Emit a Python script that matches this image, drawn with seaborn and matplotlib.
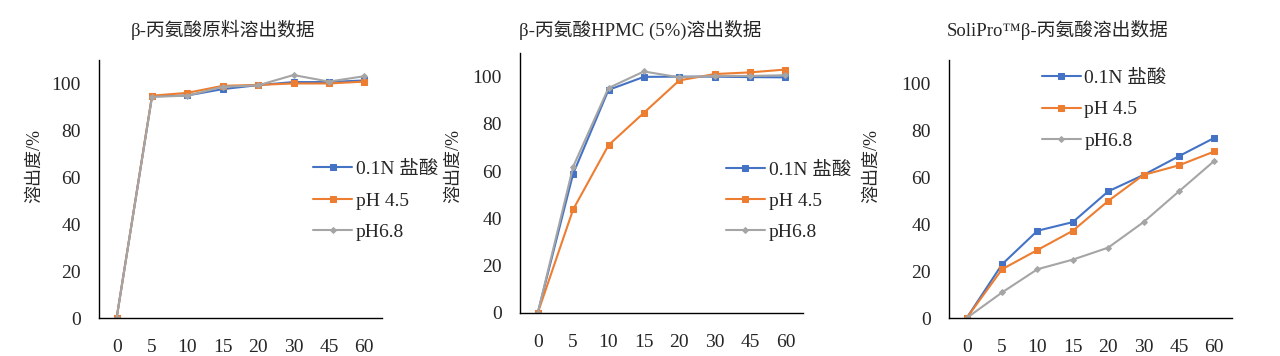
import numpy as np
import matplotlib
matplotlib.use("Agg")
import matplotlib.pyplot as plt
import seaborn as sns

sns.set_style("white")
plt.rcParams['font.family'] = ['Liberation Serif', 'Noto Sans CJK SC', 'DejaVu Sans']
plt.rcParams['axes.unicode_minus'] = False

# time points (min), treated as categories
times = ['0', '5', '10', '15', '20', '30', '45', '60']
series_names = ['0.1N 盐酸', 'pH 4.5', 'pH6.8']

titles = ['β-丙氨酸原料溶出数据',
          'β-丙氨酸HPMC (5%)溶出数据',
          'SoliPro™β-丙氨酸溶出数据']

# panel 1: raw material
raw_hcl = [0, 94.5, 94.9, 97.6, 99.3, 100.6, 100.6, 101.3]
raw_ph45 = [0, 94.8, 96.0, 99.0, 99.4, 100.0, 100.0, 100.8]
raw_ph68 = [0, 94.3, 94.8, 98.6, 99.2, 103.6, 100.8, 103.1]

# panel 2: HPMC (5%)
hpmc_hcl = [0, 58.9, 94.4, 99.9, 100.0, 100.0, 99.8, 99.7]
hpmc_ph45 = [0, 43.8, 71.0, 84.7, 98.4, 101.1, 101.8, 103.0]
hpmc_ph68 = [0, 61.9, 95.2, 102.2, 99.7, 100.3, 100.3, 100.6]

# panel 3: SoliPro
soli_hcl = [0, 22.9, 37.2, 40.9, 54.0, 61.0, 69.0, 76.8]
soli_ph45 = [0, 20.8, 29.0, 37.2, 49.9, 61.0, 65.1, 71.0]
soli_ph68 = [0, 10.9, 20.8, 24.9, 30.0, 40.9, 54.0, 67.0]

panels = [
    [raw_hcl, raw_ph45, raw_ph68],
    [hpmc_hcl, hpmc_ph45, hpmc_ph68],
    [soli_hcl, soli_ph45, soli_ph68],
]

colors = ['#4472C4', '#ED7D31', '#A5A5A5']
markers = ['s', 's', 'D']
msizes = [5, 5, 3]

fig = plt.figure(figsize=(12.8, 3.56), dpi=100)
ax_rects = [
    [0.0773, 0.1067, 0.2211, 0.7247],
    [0.4063, 0.1208, 0.2211, 0.7303],
    [0.7414, 0.1067, 0.2211, 0.7247],
]
title_pos = [(0.174, 0.915), (0.500, 0.915), (0.826, 0.915)]
ylabel_x = [0.027, 0.354, 0.681]
legend_anchor = [(0.73, 0.64), (0.70, 0.615), (0.30, 0.993)]

pos = np.arange(len(times))

for i, data in enumerate(panels):
    ax = fig.add_axes(ax_rects[i])
    for vals, name, c, m, ms in zip(data, series_names, colors, markers, msizes):
        sns.lineplot(x=pos, y=vals, ax=ax, color=c, marker=m, markersize=ms,
                     markeredgecolor=c, linewidth=1.5, label=name)
    ax.set_xlim(-0.5, len(times) - 0.5)
    ax.set_ylim(0, 110)
    ax.set_yticks([0, 20, 40, 60, 80, 100])
    # Excel-style category axis: tick marks between categories, labels centred
    ax.set_xticks(np.arange(len(times)) + 0.5)
    ax.set_xticklabels([])
    ax.set_xticks(pos, minor=True)
    ax.set_xticklabels(times, minor=True)
    ax.tick_params(axis='x', which='major', direction='in', length=5, width=1, color='black')
    ax.tick_params(axis='x', which='minor', length=0, labelsize=14, pad=15)
    ax.tick_params(axis='y', direction='in', length=5, width=1, color='black', labelsize=14, pad=13)
    for s in ['top', 'right']:
        ax.spines[s].set_visible(False)
    for s in ['left', 'bottom']:
        ax.spines[s].set_color('black')
        ax.spines[s].set_linewidth(1)
    ax.set_xlabel('')
    ax.set_ylabel('')
    fig.text(ylabel_x[i], 0.534, '溶出度/%', rotation=90, fontsize=13,
             ha='center', va='center')
    fig.text(title_pos[i][0], title_pos[i][1], titles[i], fontsize=13.5,
             ha='center', va='center')
    ax.legend(loc='upper left', bbox_to_anchor=legend_anchor[i], frameon=False,
              fontsize=14, handlelength=2.0, handletextpad=0.2, labelspacing=0.7,
              borderaxespad=0)

fig.savefig('out.png', dpi=100)
